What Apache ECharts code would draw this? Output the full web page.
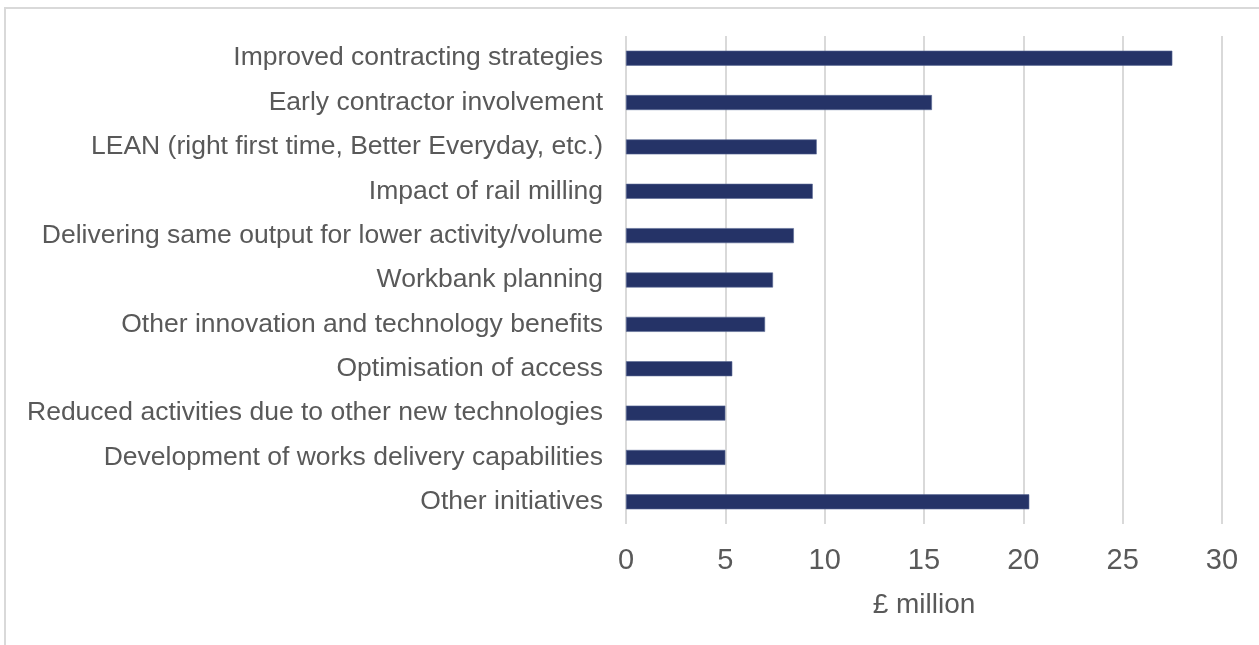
<!DOCTYPE html>
<html>
<head>
<meta charset="utf-8">
<style>
  html, body { margin: 0; padding: 0; background: #ffffff; }
  #chart { width: 1259px; height: 645px; }
</style>
<script src="https://cdn.jsdelivr.net/npm/echarts@6/dist/echarts.min.js"></script>
</head>
<body>
<div id="chart"></div>
<script>
// Efficiency initiatives, savings in £ million (listed top to bottom)
const categories = [
  'Improved contracting strategies',
  'Early contractor involvement',
  'LEAN (right first time, Better Everyday, etc.)',
  'Impact of rail milling',
  'Delivering same output for lower activity/volume',
  'Workbank planning',
  'Other innovation and technology benefits',
  'Optimisation of access',
  'Reduced activities due to other new technologies',
  'Development of works delivery capabilities',
  'Other initiatives'
];
const savings = [27.5, 15.4, 9.6, 9.4, 8.45, 7.4, 7.0, 5.35, 5.0, 5.0, 20.3];
const axisTitle = '£ million';

const chart = echarts.init(document.getElementById('chart'), null, { renderer: 'canvas' });
const textColor = '#595959';
const font = 'Liberation Sans, Arial, sans-serif';

chart.setOption({
  animation: false,
  graphic: [{
    type: 'rect',
    shape: { x: 5, y: 8, width: 1270, height: 660 },
    style: { fill: 'none', stroke: '#d9d9d9', lineWidth: 2 },
    silent: true
  }],
  grid: { left: 626, right: 37, top: 36, bottom: 121 },
  xAxis: {
    type: 'value',
    min: 0,
    max: 30,
    interval: 5,
    name: axisTitle,
    nameLocation: 'middle',
    nameGap: 67,
    nameTextStyle: { color: textColor, fontSize: 28, fontFamily: font },
    axisLine: { show: false },
    axisTick: { show: false },
    axisLabel: { color: textColor, fontSize: 29, fontFamily: font, margin: 22 },
    splitLine: { show: true, lineStyle: { color: '#d9d9d9', width: 2 } }
  },
  yAxis: {
    type: 'category',
    data: categories,
    inverse: true,
    axisLine: { show: false },
    axisTick: { show: false },
    axisLabel: {
      color: textColor, fontSize: 26.5, fontFamily: font, margin: 23,
      padding: [5, 0, 0, 0]
    }
  },
  series: [{
    type: 'bar',
    data: savings,
    barWidth: 15,
    itemStyle: { color: '#253367', borderColor: '#5b6a95', borderWidth: 0.6 }
  }]
});
</script>
</body>
</html>
